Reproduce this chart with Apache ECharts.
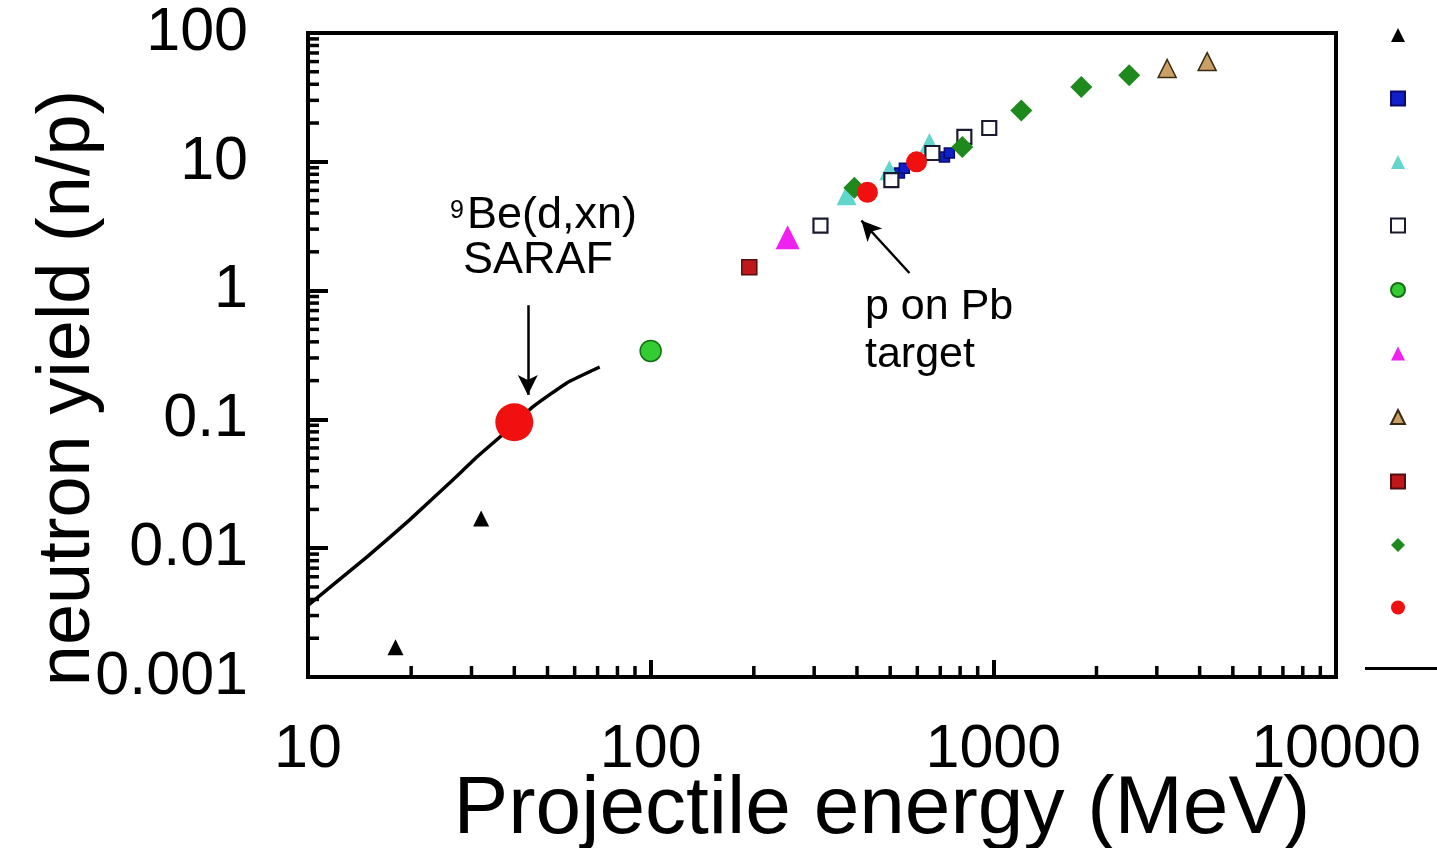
<!DOCTYPE html>
<html>
<head>
<meta charset="utf-8">
<title>neutron yield</title>
<script src="https://cdn.jsdelivr.net/npm/echarts@6.0.0/dist/echarts.min.js"></script>
<style>
  html, body { margin: 0; padding: 0; background: #fff; }
  #chart { width: 1437px; height: 848px; }
</style>
</head>
<body>
<div id="chart"></div>
<script>
// energy (MeV), yield (n/p)
const blackTri = [[18, 0.0017], [32, 0.017]];
const blueSq = [[532, 8.2], [550, 8.9], [720, 10.9], [744, 11.7]];
const cyanTri = [[373, 5.5], [497, 8.6], [651, 14.0]];
const openSq = [[313, 3.2], [504, 7.2], [664, 11.7], [823, 15.6], [973, 18.3]];
const greenCirc = [[100, 0.34]];
const magentaTri = [[251, 2.6]];
const tanTri = [[3216, 53], [4207, 60]];
const darkRedSq = [[194, 1.52]];
const greenDia = [[393, 6.3], [812, 13.0], [1207, 25], [1806, 38], [2492, 47]];
const redCirc = [[40, 0.095], [429, 5.8], [597, 10.0]];
const beCurve = [[10, 0.0036], [14.9, 0.0086], [19.8, 0.0166], [26.5, 0.034], [31.1, 0.051],
                 [36.3, 0.073], [45.3, 0.125], [56.9, 0.192], [71, 0.255]];

// annotation arrows, data coords [from, to]
const saraArrow = [[43.8, 0.77], [43.8, 0.155]];
const pbArrow = [[569, 1.37], [412, 3.5]];

// minor tick positions
const xMinor = [20, 30, 40, 50, 60, 70, 80, 90, 200, 300, 400, 500, 600, 700, 800, 900,
                2000, 3000, 4000, 5000, 6000, 7000, 8000, 9000];
const yMinor = [0.002, 0.003, 0.004, 0.005, 0.006, 0.007, 0.008, 0.009,
                0.02, 0.03, 0.04, 0.05, 0.06, 0.07, 0.08, 0.09,
                0.2, 0.3, 0.4, 0.5, 0.6, 0.7, 0.8, 0.9,
                2, 3, 4, 5, 6, 7, 8, 9,
                20, 30, 40, 50, 60, 70, 80, 90];

const FONT = '"Liberation Sans", Arial, sans-serif';
const names = ['s1', 's2', 's3', 's4', 's5', 's6', 's7', 's8', 's9', 's10'];

const chart = echarts.init(document.getElementById('chart'));

function scatter(name, data, symbol, size, color, border, bw) {
  return {
    name: name, type: 'scatter', data: data, symbol: symbol, symbolSize: size,
    itemStyle: { color: color, borderColor: border || color, borderWidth: bw || 0, opacity: 1 },
    z: 3
  };
}

const tickData = xMinor.map(v => [v, 0.001, 0]).concat(yMinor.map(v => [10, v, 1]));

const option = {
  backgroundColor: '#fff',
  animation: false,
  grid: { left: 308, top: 33, width: 1028, height: 644, show: true, borderColor: '#000', borderWidth: 4,
          outerBoundsMode: 'none', containLabel: false },
  xAxis: {
    type: 'log', min: 10, max: 10000, logBase: 10,
    name: 'Projectile energy (MeV)', nameLocation: 'middle', nameGap: 92, nameMoveOverlap: false,
    nameTextStyle: { fontFamily: FONT, fontSize: 82, color: '#000', padding: [0, 0, 0, 120] },
    axisLine: { lineStyle: { color: '#000', width: 4 } },
    axisTick: { inside: true, length: 17, lineStyle: { color: '#000', width: 4 } },
    axisLabel: { fontFamily: FONT, fontSize: 61, color: '#000', margin: 43,
      formatter: v => String(Math.round(v)) },
    splitLine: { show: false }
  },
  yAxis: {
    type: 'log', min: 0.001, max: 100, logBase: 10,
    name: 'neutron yield (n/p)', nameLocation: 'middle', nameRotate: 90, nameGap: 202, nameMoveOverlap: false,
    nameTextStyle: { fontFamily: FONT, fontSize: 74, color: '#000', padding: [0, 66, 0, 0] },
    axisLine: { lineStyle: { color: '#000', width: 4 } },
    axisTick: { inside: true, length: 20, lineStyle: { color: '#000', width: 4 } },
    axisLabel: { fontFamily: FONT, fontSize: 61, color: '#000', margin: 60,
      formatter: v => String(+v.toPrecision(3)) },
    splitLine: { show: false }
  },
  legend: [{
    data: names.slice(0, 10), orient: 'vertical', left: 1385, top: 23,
    itemWidth: 14, itemHeight: 14, itemGap: 48.5, formatter: () => '',
    selectedMode: false, textStyle: { fontSize: 1 }
  }, {
    data: [{ name: 'calc', icon: 'rect' }], left: 1360, top: 662, itemWidth: 80, itemHeight: 3,
    formatter: () => '', selectedMode: false, textStyle: { fontSize: 1 }
  }],
  series: [
    scatter(names[0], blackTri, 'triangle', 16, '#000'),
    scatter(names[1], blueSq, 'rect', 10, '#1020c8', '#0a0a70', 1.5),
    scatter(names[2], cyanTri, 'triangle', 20, '#62d6cc'),
    scatter(names[3], openSq, 'rect', 14, '#fff', '#1a1a30', 2.2),
    scatter(names[4], greenCirc, 'circle', 21, '#33cc33', '#127012', 1.5),
    scatter(names[5], magentaTri, 'triangle', 24, '#f020f0'),
    scatter(names[6], tanTri, 'triangle', 18, '#caa066', '#3a2a10', 1.5),
    scatter(names[7], darkRedSq, 'rect', 15, '#c01818', '#501010', 1.5),
    scatter(names[8], greenDia, 'diamond', 22, '#1e8a1e'),
    Object.assign(scatter(names[9], redCirc, 'circle', 20, '#f01010'), {
      symbolSize: v => (v[0] < 100 ? 38 : 21)
    }),
    {
      name: 'calc', type: 'line', data: beCurve, smooth: 0.12, showSymbol: false, symbol: 'none',
      lineStyle: { color: '#000', width: 3.5 }, itemStyle: { color: '#000' }, z: 2,
      markLine: {
        silent: true, symbol: ['none', 'arrow'], symbolSize: [15, 20],
        label: { show: false },
        lineStyle: { color: '#000', width: 2.5, type: 'solid' },
        data: [
          [{ coord: saraArrow[0] }, { coord: saraArrow[1] }],
          [{ coord: pbArrow[0] }, { coord: pbArrow[1] }]
        ]
      }
    },
    {
      type: 'custom', data: tickData, encode: { x: 0, y: 1 }, clip: false, silent: true, z: 4,
      renderItem: (params, api) => {
        const p = api.coord([api.value(0), api.value(1)]);
        const horiz = api.value(2) === 1;
        return {
          type: 'line',
          shape: horiz ? { x1: p[0], y1: p[1], x2: p[0] + 11, y2: p[1] }
                       : { x1: p[0], y1: p[1], x2: p[0], y2: p[1] - 11 },
          style: { stroke: '#000', lineWidth: 3.5 }
        };
      }
    }
  ],
  graphic: [
    { type: 'text', x: 450, y: 199, style: { text: '9', font: '25px ' + FONT, fill: '#000', align: 'left', verticalAlign: 'top' } },
    { type: 'text', x: 552, y: 216, style: { text: 'Be(d,xn)', font: '45px ' + FONT, fill: '#000', align: 'center', verticalAlign: 'middle' } },
    { type: 'text', x: 538, y: 261, style: { text: 'SARAF', font: '45px ' + FONT, fill: '#000', align: 'center', verticalAlign: 'middle' } },
    { type: 'text', x: 865, y: 307, style: { text: 'p on Pb', font: '43px ' + FONT, fill: '#000', align: 'left', verticalAlign: 'middle' } },
    { type: 'text', x: 865, y: 355, style: { text: 'target', font: '43px ' + FONT, fill: '#000', align: 'left', verticalAlign: 'middle' } }
  ]
};

chart.setOption(option);
</script>
</body>
</html>
